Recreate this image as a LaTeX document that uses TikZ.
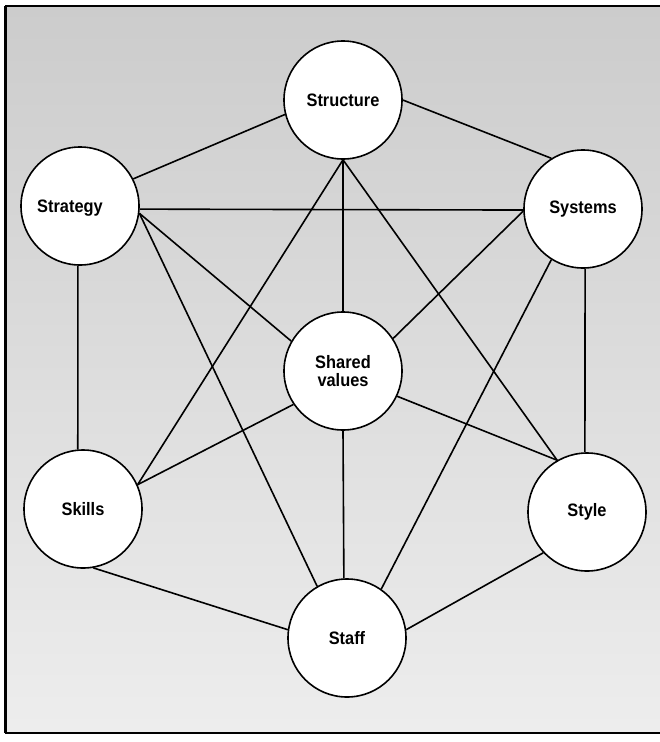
\documentclass[tikz,border=0pt]{standalone}
\usepackage{fontspec}
\setmainfont{Liberation Sans}[FakeStretch=0.91]
\begin{document}
\begin{tikzpicture}[x=1pt,y=-1pt,
  ball/.style={circle,draw=black,fill=white,line width=1.6pt,minimum size=118pt,inner sep=0pt,
    font=\fontsize{18}{18.5}\selectfont\bfseries,align=center},
  lbl/.style={inner sep=0pt,font=\fontsize{18}{18.5}\selectfont\bfseries,align=center},
  link/.style={line width=1.6pt,black},
  framel/.style={line width=2pt,black}]
\useasboundingbox (0,0) rectangle (660,742);
\coordinate (tl) at (5,6);
\coordinate (tr) at (660,6);
\coordinate (bl) at (5,733);
\coordinate (br) at (660,733);
\fill[top color=gray!40,bottom color=gray!14] (tl) rectangle (br);
\draw[framel] (tl) -- (tr);
\draw[framel] (bl) -- (br);
\draw[line width=3pt] (tl) -- (bl);

\node[ball] (structure) at (343,100) {Structure};
\node[ball] (strategy) at (80,206) {};
\node[lbl] (strategyt) at (70,208) {Strategy};
\node[ball] (systems) at (583,209) {Systems};
\node[ball] (sv) at (343,371) {Shared\\values};
\node[ball] (skills) at (83,509) {Skills};
\node[ball] (style) at (587,512) {Style};
\node[ball] (staff) at (347,638) {Staff};

\draw[link] (strategy.27) -- (structure.194);
\draw[link] (structure.0) -- (systems.122);
\draw[link] (strategy.-3) -- (systems.181);
\draw[link] (strategy.-7) -- (sv.150);
\draw[link] (strategy.-7) -- (staff.120);
\draw[link] (strategy.-92) -- (skills.95);
\draw[link] (systems.182) -- (sv.33);
\draw[link] (systems.238) -- (staff.55);
\draw[link] (systems.-88) -- (style.92);
\draw[link] (structure.south) -- (sv.north);
\draw[link] (structure.south) -- (skills.24);
\draw[link] (structure.south) -- (style.120);
\draw[link] (sv.214) -- (skills.24);
\draw[link] (sv.-25) -- (style.120);
\draw[link] (sv.south) -- (staff.93);
\draw[link] (skills.-80) -- (staff.172);
\draw[link] (style.223) -- (staff.8);
\end{tikzpicture}
\end{document}
